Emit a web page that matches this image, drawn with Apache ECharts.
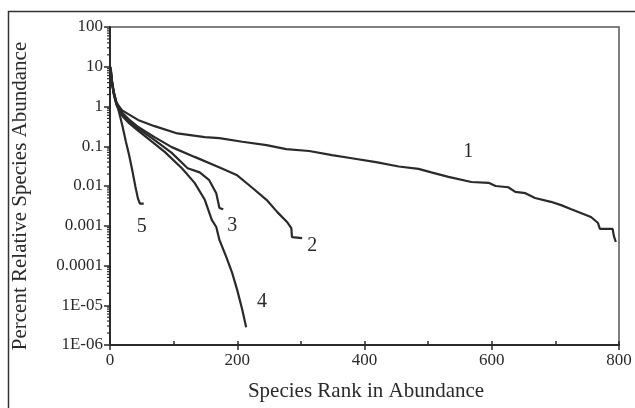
<!DOCTYPE html>
<html>
<head>
<meta charset="utf-8">
<title>Species Rank in Abundance</title>
<script src="https://cdn.jsdelivr.net/npm/echarts@6/dist/echarts.min.js"></script>
<style>
  html, body { margin: 0; padding: 0; background: #fff; }
  #chart { width: 635px; height: 408px; }
</style>
</head>
<body>
<div id="chart"></div>
<script>
// tick labels of the log axis, 1E-06 .. 100
var yTickLabels = ["1E-06", "1E-05", "0.0001", "0.001", "0.01", "0.1", "1", "10", "100"];
var xTickValues = [0, 200, 400, 600, 800];

// curve names as printed next to each curve
var curveNames = ["1", "2", "3", "4", "5"];

// [rank, percent abundance]
var curve1 = [
  [1, 10], [3, 4.5], [6, 2.2], [10, 1.25], [19, 0.8], [44, 0.46], [70, 0.32],
  [106, 0.21], [149, 0.17], [172, 0.16], [208, 0.13], [246, 0.107], [277, 0.085],
  [313, 0.076], [349, 0.06], [380, 0.05], [418, 0.04], [454, 0.031], [485, 0.027],
  [505, 0.022], [532, 0.017], [568, 0.0126], [595, 0.012], [606, 0.01], [626, 0.0093],
  [637, 0.0071], [653, 0.0066], [668, 0.005], [693, 0.004], [709, 0.0033], [725, 0.0026],
  [740, 0.0021], [756, 0.00166], [767, 0.00117], [770, 0.00083], [790, 0.00083],
  [792, 0.00055], [795, 0.00039]
];
var curve2 = [
  [1, 9], [3, 4.5], [6, 2.3], [10, 1.3], [15, 0.9], [20, 0.68], [30, 0.47], [45, 0.3],
  [70, 0.17], [97, 0.095], [133, 0.054], [175, 0.028], [199, 0.019], [224, 0.0089],
  [246, 0.0045], [263, 0.0022], [279, 0.0012], [285, 0.00087], [286, 0.00052], [302, 0.00049]
];
var curve3 = [
  [1, 8], [3, 4], [6, 2.1], [10, 1.2], [15, 0.8], [20, 0.6], [30, 0.42], [45, 0.27],
  [66, 0.16], [97, 0.068], [122, 0.028], [141, 0.022], [156, 0.014], [167, 0.0066],
  [172, 0.0028], [178, 0.0026]
];
var curve4 = [
  [1, 9], [3, 4.2], [6, 2], [10, 1.1], [15, 0.75], [20, 0.56], [30, 0.38], [45, 0.24],
  [59, 0.16], [86, 0.072], [113, 0.028], [133, 0.012], [149, 0.0045], [160, 0.0014],
  [167, 0.00093], [172, 0.00044], [183, 0.00016], [192, 0.000065], [200, 0.000024],
  [208, 0.0000076], [214, 0.0000028]
];
var curve5 = [
  [1, 7], [4, 3.2], [8, 1.6], [12, 1.0], [16, 0.55], [20, 0.3], [25, 0.13], [30, 0.06],
  [35, 0.025], [40, 0.0095], [44, 0.0048], [47, 0.0036], [53, 0.0036]
];

var ink = "#2a2a2a";
var serif = "Liberation Serif";

var chart = echarts.init(document.getElementById("chart"));

function curve(name, data, labelAt) {
  return {
    name: name,
    type: "line",
    data: data,
    showSymbol: false,
    symbol: "none",
    animation: false,
    lineStyle: { color: ink, width: 2.2 },
    markPoint: {
      symbol: "circle",
      symbolSize: 0,
      label: {
        show: true,
        formatter: name,
        color: ink,
        fontFamily: serif,
        fontSize: 20,
      },
      data: [{ coord: labelAt }],
    },
  };
}

chart.setOption({
  backgroundColor: "#fff",
  animation: false,
  grid: {
    left: 110,
    top: 27,
    right: 16,
    bottom: 63,
    show: true,
    borderColor: "#555",
    borderWidth: 1.5,
  },
  xAxis: [
    {
      type: "value",
      min: 0,
      max: 800,
      interval: 200,
      axisLine: { lineStyle: { color: ink, width: 2 } },
      axisTick: { length: 5, lineStyle: { color: ink, width: 1.5 } },
      axisLabel: {
        margin: 7,
        color: ink,
        fontFamily: serif,
        fontSize: 17,
        formatter: function (v) {
          return xTickValues.indexOf(v) >= 0 ? String(v) : "";
        },
      },
      splitLine: { show: false },
    },
    {
      // small inner ticks at every 100
      type: "value",
      position: "bottom",
      min: 0,
      max: 800,
      interval: 100,
      axisLine: { show: false },
      axisTick: { inside: true, length: 4, lineStyle: { color: ink, width: 1.5 } },
      axisLabel: { show: false },
      splitLine: { show: false },
    },
  ],
  yAxis: {
    type: "log",
    logBase: 10,
    min: 1e-6,
    max: 100,
    axisLine: { lineStyle: { color: ink, width: 2 } },
    axisTick: { length: 6, lineStyle: { color: ink, width: 1.5 } },
    axisLabel: {
      margin: 7,
      color: ink,
      fontFamily: serif,
      fontSize: 17,
      formatter: function (v) {
        var i = Math.round(Math.log10(v)) + 6;
        return yTickLabels[i] || "";
      },
    },
    splitLine: { show: false },
  },
  series: [
    curve(curveNames[0], curve1, [563, 0.072]),
    curve(curveNames[1], curve2, [318, 0.00031]),
    curve(curveNames[2], curve3, [192, 0.001]),
    curve(curveNames[3], curve4, [239, 0.000012]),
    curve(curveNames[4], curve5, [50, 0.00093]),
  ],
});

// minor ticks 2..9 within each decade of the log axis
var graphics = [];
var x0 = chart.convertToPixel({ xAxisIndex: 0 }, 0);
for (var d = -6; d < 2; d++) {
  for (var m = 2; m <= 9; m++) {
    var y = chart.convertToPixel({ yAxisIndex: 0 }, m * Math.pow(10, d));
    graphics.push({
      type: "line",
      shape: { x1: x0 - 3, y1: y, x2: x0, y2: y },
      style: { stroke: ink, lineWidth: 1.2 },
      silent: true,
    });
  }
}

// outer frame of the scanned figure
graphics.push({
  type: "rect",
  shape: { x: 8.5, y: 11.5, width: 700, height: 500 },
  style: { stroke: "#333", fill: null, lineWidth: 1.5 },
  silent: true,
});
graphics.push({
  type: "text",
  x: 20,
  y: 196,
  rotation: Math.PI / 2,
  style: {
    text: "Percent Relative Species Abundance",
    fill: ink,
    font: "21px " + serif,
    textAlign: "center",
    textVerticalAlign: "middle",
  },
});
graphics.push({
  type: "text",
  x: 366,
  y: 391,
  style: {
    text: "Species Rank in Abundance",
    fill: ink,
    font: "21px " + serif,
    textAlign: "center",
    textVerticalAlign: "middle",
  },
});

chart.setOption({ graphic: graphics });
</script>
</body>
</html>
